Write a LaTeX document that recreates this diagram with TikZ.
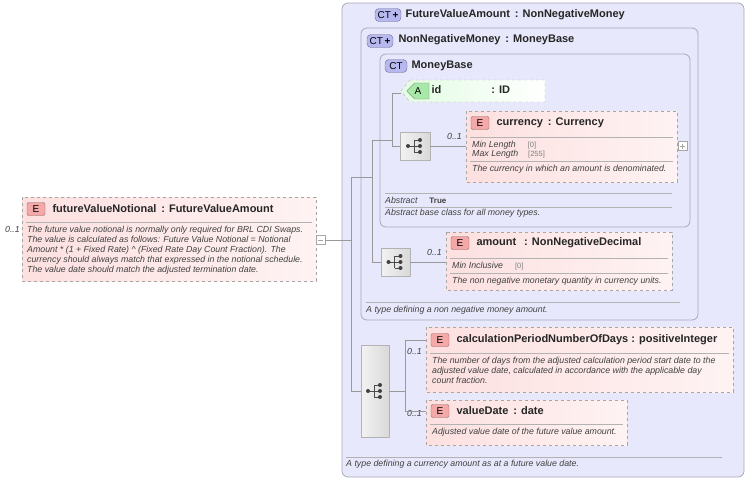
\documentclass[tikz,border=0pt]{standalone}
\usepackage{fontspec}
\setmainfont{Liberation Sans}
\usetikzlibrary{shapes.misc}
\definecolor{ctfill}{HTML}{E8E8FC}
\definecolor{ctborder}{HTML}{A8A8B8}
\definecolor{elfill}{HTML}{FDE0E0}
\definecolor{attfill}{HTML}{E2FCE2}
\definecolor{txt}{HTML}{404040}
\definecolor{ctb}{HTML}{B8B8F0}
\definecolor{elb}{HTML}{F4A8A8}
\definecolor{atb}{HTML}{A8E8A8}
\begin{document}
\begin{tikzpicture}[x=1pt,y=-1pt,
  ct/.style={draw=ctborder,fill=ctfill,rounded corners=6pt,line width=0.8pt},
  el/.style={draw=gray!70,dashed,left color=elfill,right color=white!60!elfill},
  att/.style={draw=gray!60,dashed,left color=attfill,right color=white},
  seq/.style={draw=gray!60,left color=gray!10,right color=gray!30},
  badge/.style={draw=#1!60!black,fill=#1,minimum width=18pt,minimum height=13pt,inner sep=1pt,font=\fontsize{10}{10}\selectfont,rounded corners=2pt},
  hd/.style={anchor=west,font=\bfseries\fontsize{11}{12}\selectfont,text=black!85},
  ds/.style={anchor=north west,font=\itshape\fontsize{8.8}{10}\selectfont,text=txt,inner sep=0pt,align=left},
  sm/.style={anchor=west,font=\itshape\fontsize{8.8}{9}\selectfont,text=txt,inner sep=0pt},
  cn/.style={draw=gray!80,line width=0.6pt},
  sep/.style={draw=gray!60,line width=0.5pt},
  pm/.style={draw=gray!70,line width=0.4pt}]
\useasboundingbox (0,0) rectangle (746,480);
% outer CT
\draw[ct] (342,3) rectangle (744,477);
\node[badge=ctb,rounded corners=4pt,minimum width=26pt] (b1) at (388,15) {CT\,\textbf{+}};
\node[hd] (h1) at (402,15) {FutureValueAmount\ \,: NonNegativeMoney};
\draw[sep] (346,457) -- (722,457);
\node[ds] (d1) at (346,460) {A type defining a currency amount as at a future value date.};
% NonNegativeMoney
\draw[ct] (361,28) rectangle (698,320);
\node[badge=ctb,rounded corners=4pt,minimum width=26pt] (b2) at (380,41) {CT\,\textbf{+}};
\node[hd] (h2) at (395,40) {NonNegativeMoney\ \,: MoneyBase};
\draw[sep] (366,302) -- (680,302);
\node[ds] (d2) at (366,306) {A type defining a non negative money amount.};
% MoneyBase
\draw[ct] (380,54) rectangle (690,227);
\node[badge=ctb,rounded corners=4pt,minimum width=22pt] (b3) at (396,66) {CT};
\node[hd] (h3) at (408,66) {MoneyBase};
\draw[sep] (385,193) -- (672,193);
\node[sm] (ab) at (385,200) {Abstract\hspace{12pt}\upshape\bfseries\fontsize{8}{8}\selectfont True};
\draw[sep] (385,207) -- (672,207);
\node[ds] (d3) at (385,209) {Abstract base class for all money types.};
% id attribute
\path[att] (410,80) -- (545,80) -- (545,102) -- (410,102) -- (401,91) -- cycle;
\node[badge=atb,chamfered rectangle,chamfered rectangle corners={north west,south west},chamfered rectangle xsep=4pt,rounded corners=0pt,minimum width=22pt] (ba) at (418,91) {A};
\node[hd] (ida) at (428,90) {id\hspace{50pt}: ID};
% seq1
\draw[seq] (400,132) rectangle (430,160);
\coordinate (s1) at (415,146);
\node[sm,anchor=east] (o1) at (462,136) {0..1};
% currency
\draw[el] (466,111) rectangle (677,182);
\node[badge=elb] (bc) at (480,123) {E};
\node[hd] (hc) at (493,123) {currency\ \,: Currency};
\draw[sep] (470,137) -- (673,137);
\node[sm] (c1) at (472,145) {Min Length\hspace{12pt}\upshape\fontsize{7.5}{8}\selectfont\color{gray}[0]};
\node[sm] (c2) at (472,154) {Max Length\hspace{10pt}\upshape\fontsize{7.5}{8}\selectfont\color{gray}[255]};
\draw[sep] (470,161) -- (673,161);
\node[ds] (dc) at (472,165) {The currency in which an amount is denominated.};
\draw[pm,fill=white] (678,141.5) rectangle (687,150.5);
\draw[pm] (680,146) -- (685,146);
\draw[pm] (682.5,143.5) -- (682.5,148.5);
% seq2
\draw[seq] (381,248) rectangle (410,276);
\coordinate (s2) at (395.5,262);
\node[sm,anchor=east] (o2) at (442,252) {0..1};
% amount
\draw[el] (446,232) rectangle (672,290);
\node[badge=elb] (bm) at (460,243) {E};
\node[hd] (hm) at (473,243) {amount\ \ \,: NonNegativeDecimal};
\draw[sep] (450,258) -- (668,258);
\node[sm] (m1) at (452,266) {Min Inclusive\hspace{12pt}\upshape\fontsize{7.5}{8}\selectfont\color{gray}[0]};
\draw[sep] (450,273) -- (668,273);
\node[ds] (dm) at (452,277) {The non negative monetary quantity in currency units.};
% seq3
\draw[seq] (361,345) rectangle (389,437);
\coordinate (s3) at (375,391);
\node[sm,anchor=east] (o3) at (422,351) {0..1};
\node[sm,anchor=east] (o4) at (422,413) {0..1};
% calc
\draw[el] (426,327) rectangle (733,392);
\node[badge=elb] (bk) at (440,340) {E};
\node[hd] (hk) at (453,340) {calculationPeriodNumberOfDays\ : positiveInteger};
\draw[sep] (430,353) -- (729,353);
\node[ds] (dk) at (432,357) {The number of days from the adjusted calculation period start date to the\\adjusted value date, calculated in accordance with the applicable day\\count fraction.};
% valueDate
\draw[el] (426,400) rectangle (627,445);
\node[badge=elb] (bv) at (440,411) {E};
\node[hd] (hv) at (453,411) {valueDate\ \,: date};
\draw[sep] (430,424) -- (623,424);
\node[ds] (dv) at (432,428) {Adjusted value date of the future value amount.};
% futureValueNotional
\draw[el] (22,197) rectangle (316,281);
\node[badge=elb] (bf) at (36,209) {E};
\node[hd] (hf) at (49,209) {futureValueNotional\ \,: FutureValueAmount};
\draw[sep] (26,222) -- (312,222);
\node[ds] (df) at (27,226) {The future value notional is normally only required for BRL CDI Swaps.\\The value is calculated as follows: Future Value Notional = Notional\\Amount * (1 + Fixed Rate) \^{} (Fixed Rate Day Count Fraction). The\\currency should always match that expressed in the notional schedule.\\The value date should match the adjusted termination date.};
\node[sm,anchor=east] (o0) at (20,229) {0..1};
\draw[pm,fill=white] (316,235.5) rectangle (325,244.5);
\draw[pm] (318,240) -- (323,240);
% sequence icons
\foreach \c in {s1,s2,s3}{
  \draw[black!70,line width=0.8pt] ([xshift=-7pt]\c) -- ([xshift=-1pt]\c)
     ([xshift=-1pt,yshift=-6pt]\c) -- ([xshift=-1pt,yshift=6pt]\c)
     ([xshift=-1pt,yshift=-6pt]\c) -- ([xshift=5pt,yshift=-6pt]\c)
     ([xshift=-1pt]\c) -- ([xshift=5pt]\c)
     ([xshift=-1pt,yshift=6pt]\c) -- ([xshift=5pt,yshift=6pt]\c);
  \fill[black!75] ([xshift=-7pt]\c) circle (2pt) ([xshift=5pt,yshift=-6pt]\c) circle (2pt) ([xshift=5pt]\c) circle (2pt) ([xshift=5pt,yshift=6pt]\c) circle (2pt);
}
% connectors
\coordinate (j0) at (351,240);
\draw[cn] (325,240) -- (j0);
\draw[cn] (351,177) -- (351,391) -- (361,391);
\draw[cn] (351,177) -- (372,177);
\draw[cn] (372,140) -- (372,262) -- (381,262);
\draw[cn] (372,140) -- (392,140);
\draw[cn] (401,93) -- (392,93) -- (392,146) -- (400,146);
\draw[cn] (430,146) -- (466,146);
\draw[cn] (410,262) -- (446,262);
\draw[cn] (389,391) -- (405,391);
\draw[cn] (426,340) -- (405,340) -- (405,411) -- (426,411);
\end{tikzpicture}
\end{document}
